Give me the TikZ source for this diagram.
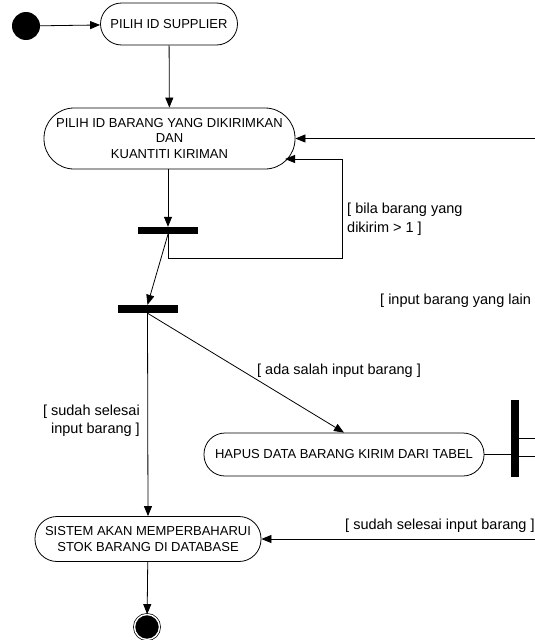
\documentclass[tikz,border=0pt]{standalone}
\usepackage{fontspec}
\setmainfont{Liberation Sans}
\usepackage{tikz}
\usetikzlibrary{arrows.meta,
positioning%,calc
}

\begin{document}
\begin{tikzpicture}[x=1pt, y=-1pt,
  act/.style={draw, line width=0.8pt, rounded corners=21pt, align=center, inner sep=2pt, font=\fontsize{13}{15.5}\selectfont},
  bar/.style={fill=black, inner sep=0pt},
  guard/.style={inner sep=0pt, font=\fontsize{14.5}{18.5}\selectfont},
  flow/.style={-{Triangle[length=10pt,width=8pt]}, line width=0.8pt}]
\newdimen\xr
\newdimen\rr
\xr=545pt
\rr=14pt

\useasboundingbox (0,0) rectangle (535,640);
\clip (0,0) rectangle (535,640);

\node[circle, fill, minimum size=2*\rr, inner sep=0pt] (start) at (26,26) {}; % initial
\node[act, minimum width=137pt, minimum height=42pt] (supp) at (169,24) {PILIH ID SUPPLIER};
\node[act, rounded corners=30pt, minimum width=251pt, minimum height=61pt] (barang) at (169.5,138.5) {PILIH ID BARANG YANG DIKIRIMKAN\\DAN\\KUANTITI KIRIMAN};
\node[bar, minimum width=60pt, minimum height=7pt] (fork1) at (168,230.5) {};
\node[bar, minimum width=60pt, minimum height=8pt] (fork2) at (147.5,309) {};
\node[act, minimum width=280pt, minimum height=43pt] (hapus) at (344,454.5) {HAPUS DATA BARANG KIRIM DARI TABEL};
\node[bar, minimum width=8pt, minimum height=77pt] (fork3) at (515,438) {};
\node[act, rounded corners=22pt, minimum width=226pt, minimum height=45pt] (stok) at (148,539) {SISTEM AKAN MEMPERBAHARUI\\STOK BARANG DI DATABASE};
\node[circle, fill=black, draw=black, line width=0.7pt, double=white, double distance=1.4pt, minimum size=2*\rr-3pt, inner sep=0pt] (stop) at (147,627) {}; % final

\coordinate (inBarang) at (\xr,138.5);
\coordinate (inStok) at (\xr,539);
\coordinate (outA) at (\xr,438);
\coordinate (outB) at (\xr,456.5);
\coordinate (loopR) at (342,258);
\coordinate (loopIn) at (285,159);

\draw[flow] (start) -- (supp);
\draw[flow] (supp) -- (barang);
\draw[flow] (barang.south -| fork1) -- (fork1.north);
\draw[flow] (fork1.south) |- (loopR) |- (loopIn); % loop back
\draw[flow] (fork1.south) -- (fork2.north);
\draw[flow] (fork2.south) -- (stok.north);
\draw[flow] (fork2.south) -- (hapus.north);
\draw[line width=0.8pt] (hapus.east) -- (hapus.east -| fork3.west);
\draw[line width=0.8pt] (fork3.east) -- (outA);
\draw[line width=0.8pt] (fork3.east |- outB) -- (outB);
\draw[flow] (inBarang) -- (barang.east);
\draw[flow] (inStok) -- (stok.east);
\draw[flow] (stok) -- (stop);

\node[guard, align=left, right=0pt of {(347,219)}] (gBila) {[ bila barang yang\\dikirim > 1 ]};
\node[guard, right=0pt of {(380,301)}] (gLain) {[ input barang yang lain};
\node[guard] (gSalah) at (339,371) {[ ada salah input barang ]};
\node[guard, align=right, left=0pt of {(140,420.5)}] (gSelesai) {[ sudah selesai\\input barang ]};
\node[guard, right=0pt of {(345,526)}] (gSelesai2) {[ sudah selesai input barang ]};
\end{tikzpicture}
\end{document}
